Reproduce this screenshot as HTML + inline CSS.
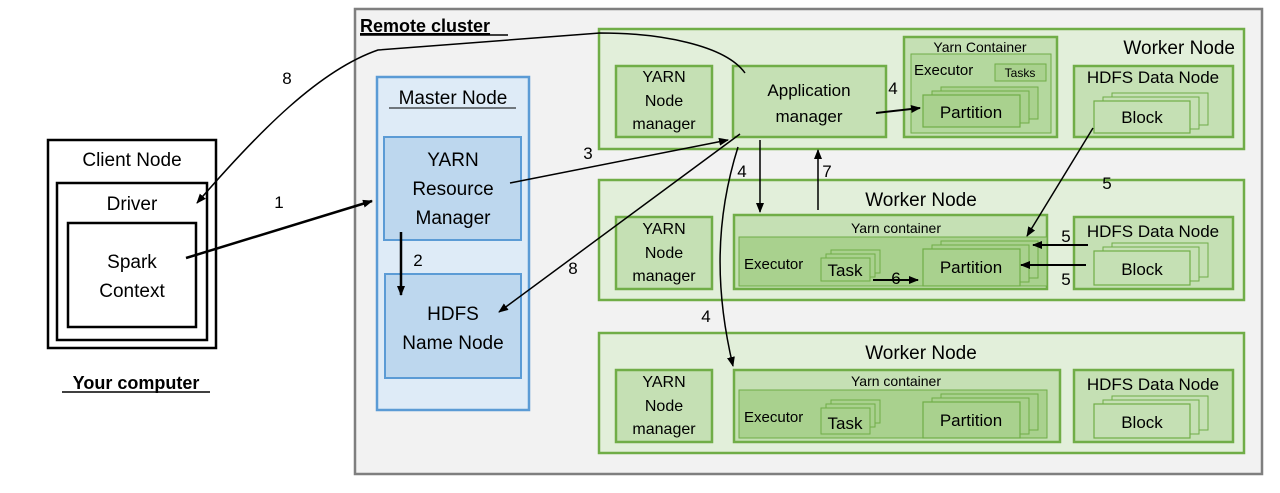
<!DOCTYPE html>
<html><head><meta charset="utf-8"><style>
html,body{margin:0;padding:0;background:#fff;}
svg{display:block;font-family:"Liberation Sans",sans-serif;}
</style></head><body>
<svg width="1280" height="493" viewBox="0 0 1280 493" xmlns="http://www.w3.org/2000/svg">
<defs>
<marker id="a" markerWidth="10" markerHeight="8" refX="9" refY="4" orient="auto" markerUnits="userSpaceOnUse"><path d="M0,0 L10,4 L0,8 z" fill="#000"/></marker>
</defs>
<rect x="0" y="0" width="1280" height="493" fill="#fff"/>
<!-- Remote cluster -->
<rect x="355" y="9" width="907" height="465" fill="#f2f2f2" stroke="#7f7f7f" stroke-width="2.5"/>
<text x="360" y="32" font-size="18" font-weight="bold" text-decoration="underline">Remote cluster</text>
<line x1="360" y1="35" x2="508" y2="35" stroke="#000" stroke-width="1.5"/>
<!-- Client -->
<rect x="48" y="140" width="168" height="208" fill="#fff" stroke="#000" stroke-width="2.5"/>
<text x="132" y="166" font-size="19" text-anchor="middle">Client Node</text>
<rect x="57" y="183" width="150" height="157" fill="#fff" stroke="#000" stroke-width="2.5"/>
<text x="132" y="210" font-size="19" text-anchor="middle">Driver</text>
<rect x="68" y="223" width="128" height="104" fill="#fff" stroke="#000" stroke-width="2.5"/>
<text x="132" y="268" font-size="19" text-anchor="middle">Spark</text>
<text x="132" y="297" font-size="19" text-anchor="middle">Context</text>
<text x="136" y="389" font-size="18" font-weight="bold" text-anchor="middle">Your computer</text>
<line x1="62" y1="392" x2="210" y2="392" stroke="#000" stroke-width="1.5"/>
<!-- Master -->
<rect x="377" y="77" width="152" height="333" fill="#deebf7" stroke="#5b9bd5" stroke-width="2.5"/>
<text x="453" y="104" font-size="19" text-anchor="middle">Master Node</text>
<line x1="389" y1="108" x2="516" y2="108" stroke="#000" stroke-width="1"/>
<rect x="384" y="137" width="137" height="103" fill="#bdd7ee" stroke="#5b9bd5" stroke-width="2"/>
<text x="453" y="166" font-size="19" text-anchor="middle">YARN</text>
<text x="453" y="195" font-size="19" text-anchor="middle">Resource</text>
<text x="453" y="224" font-size="19" text-anchor="middle">Manager</text>
<rect x="385" y="274" width="136" height="104" fill="#bdd7ee" stroke="#5b9bd5" stroke-width="2"/>
<text x="453" y="320" font-size="19" text-anchor="middle">HDFS</text>
<text x="453" y="349" font-size="19" text-anchor="middle">Name Node</text>

<g stroke="#70ad47" stroke-width="2.5">
<!-- Worker 1 -->
<rect x="599" y="29" width="645" height="120" fill="#e2efda"/>
<rect x="616" y="66" width="96" height="71" fill="#c5e0b4"/>
<rect x="733" y="66" width="153" height="71" fill="#c5e0b4"/>
<rect x="904" y="37" width="153" height="100" fill="#c5e0b4"/>
<rect x="911" y="54" width="140" height="79" fill="#b4d89e" stroke-width="1"/>
<rect x="995" y="64" width="51" height="17" fill="#a9d18e" stroke-width="1"/>
<rect x="941" y="87" width="97" height="32" fill="#a9d18e" stroke-width="1"/>
<rect x="932" y="91" width="97" height="32" fill="#a9d18e" stroke-width="1"/>
<rect x="923" y="95" width="97" height="32" fill="#a9d18e" stroke-width="1.2"/>
<rect x="1074" y="66" width="159" height="71" fill="#c5e0b4"/>
<rect x="1112" y="93" width="96" height="32" fill="#c5e0b4" stroke-width="1"/>
<rect x="1103" y="97" width="96" height="32" fill="#c5e0b4" stroke-width="1"/>
<rect x="1094" y="101" width="96" height="32" fill="#c5e0b4" stroke-width="1.2"/>
<!-- Worker 2 -->
<rect x="599" y="180" width="645" height="120" fill="#e2efda"/>
<rect x="616" y="217" width="96" height="72" fill="#c5e0b4"/>
<rect x="734" y="215" width="313" height="74" fill="#c5e0b4"/>
<rect x="739" y="237" width="308" height="49" fill="#a9d18e" stroke-width="1"/>
<rect x="831" y="250" width="49" height="23" fill="#a9d18e" stroke-width="1"/>
<rect x="826" y="254" width="49" height="23" fill="#a9d18e" stroke-width="1"/>
<rect x="821" y="258" width="49" height="23" fill="#a9d18e" stroke-width="1"/>
<rect x="941" y="241" width="97" height="37" fill="#a9d18e" stroke-width="1"/>
<rect x="932" y="245" width="97" height="37" fill="#a9d18e" stroke-width="1"/>
<rect x="923" y="249" width="97" height="37" fill="#a9d18e" stroke-width="1.2"/>
<rect x="1074" y="217" width="159" height="72" fill="#c5e0b4"/>
<rect x="1112" y="243" width="96" height="34" fill="#c5e0b4" stroke-width="1"/>
<rect x="1103" y="247" width="96" height="34" fill="#c5e0b4" stroke-width="1"/>
<rect x="1094" y="251" width="96" height="34" fill="#c5e0b4" stroke-width="1.2"/>
<!-- Worker 3 -->
<rect x="599" y="333" width="645" height="120" fill="#e2efda"/>
<rect x="616" y="370" width="96" height="72" fill="#c5e0b4"/>
<rect x="734" y="370" width="326" height="72" fill="#c5e0b4"/>
<rect x="739" y="390" width="308" height="48" fill="#a9d18e" stroke-width="1"/>
<rect x="831" y="400" width="49" height="23" fill="#a9d18e" stroke-width="1"/>
<rect x="826" y="404" width="49" height="23" fill="#a9d18e" stroke-width="1"/>
<rect x="821" y="408" width="49" height="26" fill="#a9d18e" stroke-width="1"/>
<rect x="941" y="394" width="97" height="36" fill="#a9d18e" stroke-width="1"/>
<rect x="932" y="398" width="97" height="36" fill="#a9d18e" stroke-width="1"/>
<rect x="923" y="402" width="97" height="36" fill="#a9d18e" stroke-width="1.2"/>
<rect x="1074" y="370" width="159" height="72" fill="#c5e0b4"/>
<rect x="1112" y="396" width="96" height="34" fill="#c5e0b4" stroke-width="1"/>
<rect x="1103" y="400" width="96" height="34" fill="#c5e0b4" stroke-width="1"/>
<rect x="1094" y="404" width="96" height="34" fill="#c5e0b4" stroke-width="1.2"/>
</g>

<g font-size="17" fill="#000">
<text x="1235" y="54" font-size="19" text-anchor="end">Worker Node</text>
<text x="664" y="82" text-anchor="middle" font-size="16">YARN</text>
<text x="664" y="106" text-anchor="middle" font-size="16">Node</text>
<text x="664" y="129" text-anchor="middle" font-size="16">manager</text>
<text x="809" y="96" text-anchor="middle">Application</text>
<text x="809" y="122" text-anchor="middle">manager</text>
<text x="980" y="52" text-anchor="middle" font-size="14">Yarn Container</text>
<text x="914" y="75" font-size="15">Executor</text>
<text x="1020" y="77" text-anchor="middle" font-size="12">Tasks</text>
<text x="971" y="118" text-anchor="middle">Partition</text>
<text x="1153" y="83" text-anchor="middle">HDFS Data Node</text>
<text x="1142" y="123" text-anchor="middle">Block</text>

<text x="921" y="206" font-size="19" text-anchor="middle">Worker Node</text>
<text x="664" y="234" text-anchor="middle" font-size="16">YARN</text>
<text x="664" y="258" text-anchor="middle" font-size="16">Node</text>
<text x="664" y="281" text-anchor="middle" font-size="16">manager</text>
<text x="896" y="233" text-anchor="middle" font-size="14">Yarn container</text>
<text x="744" y="269" font-size="15">Executor</text>
<text x="845" y="276" text-anchor="middle">Task</text>
<text x="971" y="273" text-anchor="middle">Partition</text>
<text x="1153" y="237" text-anchor="middle">HDFS Data Node</text>
<text x="1142" y="275" text-anchor="middle">Block</text>

<text x="921" y="359" font-size="19" text-anchor="middle">Worker Node</text>
<text x="664" y="387" text-anchor="middle" font-size="16">YARN</text>
<text x="664" y="411" text-anchor="middle" font-size="16">Node</text>
<text x="664" y="434" text-anchor="middle" font-size="16">manager</text>
<text x="896" y="386" text-anchor="middle" font-size="14">Yarn container</text>
<text x="744" y="422" font-size="15">Executor</text>
<text x="845" y="429" text-anchor="middle">Task</text>
<text x="971" y="426" text-anchor="middle">Partition</text>
<text x="1153" y="390" text-anchor="middle">HDFS Data Node</text>
<text x="1142" y="428" text-anchor="middle">Block</text>
</g>

<!-- arrows -->
<g stroke="#000" fill="none" stroke-width="1.5" marker-end="url(#a)">
<line x1="186" y1="258" x2="372" y2="201" stroke-width="2.5"/>
<line x1="401" y1="232" x2="401" y2="295" stroke-width="2.5"/>
<line x1="510" y1="183" x2="728" y2="140"/>
<line x1="740" y1="134" x2="499" y2="312"/>
<path d="M745,73 C725,45 660,33 600,33 L378,50 C320,70 260,130 197,203"/>
<line x1="876" y1="113" x2="920" y2="108" stroke-width="2"/>
<line x1="760" y1="140" x2="760" y2="212"/>
<line x1="818" y1="210" x2="818" y2="150"/>
<path d="M738,147 C715,220 715,290 733,366"/>
<line x1="1093" y1="128" x2="1027" y2="236"/>
<line x1="1088" y1="245" x2="1033" y2="245" stroke-width="2"/>
<line x1="1086" y1="265" x2="1021" y2="265" stroke-width="2"/>
<line x1="873" y1="280" x2="918" y2="280" stroke-width="2"/>
</g>
<g font-size="17" fill="#000">
<text x="279" y="208" text-anchor="middle">1</text>
<text x="418" y="266" text-anchor="middle">2</text>
<text x="588" y="159" text-anchor="middle">3</text>
<text x="573" y="274" text-anchor="middle">8</text>
<text x="287" y="84" text-anchor="middle">8</text>
<text x="893" y="94" text-anchor="middle">4</text>
<text x="742" y="177" text-anchor="middle">4</text>
<text x="827" y="177" text-anchor="middle">7</text>
<text x="706" y="322" text-anchor="middle">4</text>
<text x="1107" y="189" text-anchor="middle">5</text>
<text x="1066" y="242" text-anchor="middle">5</text>
<text x="1066" y="285" text-anchor="middle">5</text>
<text x="896" y="284" text-anchor="middle">6</text>
</g>
</svg>
</body></html>
